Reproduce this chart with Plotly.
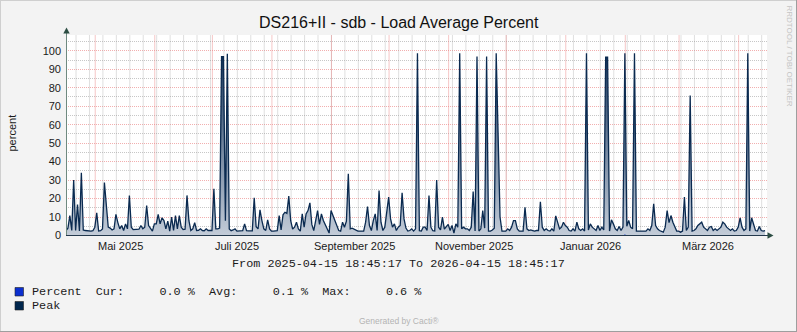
import pandas as pd
import plotly.graph_objects as go

# ---------------------------------------------------------------- data
START = "2025-04-15 18:45:17"
END = "2026-04-15 18:45:17"

# daily peak load average (percent), one value per day from START
peak = [
    2.7, 4.0, 10.8, 2.7, 30.0, 2.7, 16.8, 2.5, 34.0, 3.0,
    2.7, 2.5, 2.6, 2.4, 2.6, 4.5, 12.3, 2.4, 2.6, 3.6,
    28.7, 14.0, 4.5, 4.0, 3.0, 3.6, 11.4, 7.0, 3.6, 5.4,
    2.7, 6.3, 3.6, 21.7, 4.5, 3.2, 3.2, 3.0, 3.4, 5.4,
    3.6, 4.5, 16.2, 5.4, 3.6, 2.4, 6.3, 6.3, 11.4, 6.3,
    9.6, 8.1, 3.6, 7.8, 2.4, 9.9, 2.7, 10.8, 3.6, 10.8,
    4.5, 3.2, 3.4, 21.7, 8.0, 2.7, 3.6, 7.0, 2.7, 2.8,
    3.6, 2.7, 2.6, 3.6, 2.7, 2.6, 2.7, 25.3, 3.6, 3.6,
    4.0, 96.9, 96.9, 8.0, 98.4, 3.6, 2.6, 3.0, 3.6, 2.4,
    2.6, 2.6, 2.6, 6.3, 2.6, 2.5, 2.6, 2.5, 20.4, 4.7,
    3.6, 13.9, 8.1, 3.6, 2.7, 8.5, 3.6, 2.4, 2.4, 2.4,
    2.6, 10.8, 3.0, 11.2, 12.6, 12.0, 21.3, 8.0, 3.5, 4.5,
    7.2, 3.6, 2.4, 11.7, 4.5, 11.7, 13.5, 17.7, 6.0, 2.7,
    9.0, 13.5, 6.0, 11.7, 8.1, 6.0, 3.6, 1.3, 13.5, 11.0,
    8.1, 5.0, 2.7, 2.4, 7.2, 4.5, 7.8, 33.4, 3.6, 4.0,
    3.5, 2.7, 2.4, 2.4, 2.4, 2.4, 7.2, 15.7, 5.4, 2.7,
    8.1, 11.7, 2.7, 24.4, 7.2, 2.7, 4.5, 12.0, 20.8, 9.0,
    4.5, 6.3, 2.7, 4.5, 5.4, 23.1, 9.0, 4.0, 2.4, 2.7,
    3.6, 2.4, 3.6, 98.7, 2.6, 2.4, 4.5, 4.5, 2.7, 21.7,
    4.5, 2.6, 2.4, 30.1, 4.5, 3.0, 9.9, 3.5, 4.5, 6.0,
    2.7, 5.4, 1.3, 6.3, 4.5, 98.7, 3.6, 4.5, 3.6, 3.6,
    2.7, 4.5, 23.8, 2.4, 96.9, 2.4, 3.6, 13.5, 4.0, 96.9,
    2.4, 2.4, 3.0, 4.0, 98.7, 47.8, 10.0, 2.4, 2.4, 2.4,
    3.6, 2.7, 4.5, 8.1, 8.1, 3.6, 2.4, 2.4, 2.4, 15.3,
    3.6, 2.7, 3.0, 2.7, 2.4, 2.7, 2.7, 18.2, 4.5, 2.7,
    3.6, 2.7, 2.4, 3.6, 2.4, 10.6, 7.2, 3.6, 4.5, 7.2,
    5.4, 4.5, 2.7, 2.4, 3.6, 2.4, 7.2, 3.6, 2.7, 3.6,
    2.4, 98.7, 3.0, 6.3, 4.5, 3.6, 2.7, 5.4, 2.7, 4.5,
    3.0, 96.5, 96.5, 2.4, 8.5, 6.3, 3.6, 2.7, 4.9, 2.7,
    4.5, 98.7, 5.0, 8.1, 4.5, 3.6, 98.7, 2.4, 2.4, 2.4,
    2.4, 2.7, 2.4, 3.6, 2.7, 5.4, 17.1, 5.4, 3.6, 2.7,
    2.4, 1.8, 4.5, 13.5, 7.0, 10.8, 7.2, 4.5, 2.4, 2.4,
    1.8, 2.4, 20.8, 2.7, 4.5, 75.8, 2.4, 2.7, 3.6, 5.4,
    6.5, 7.2, 4.5, 3.6, 2.7, 4.5, 4.9, 2.7, 3.6, 2.7,
    3.6, 4.5, 7.2, 6.3, 4.5, 3.6, 2.7, 3.6, 2.4, 2.7,
    4.5, 9.6, 4.5, 2.7, 3.6, 98.7, 2.4, 9.6, 6.3, 2.7,
    2.4, 4.9, 2.7, 2.4, 2.7,
]

# daily load average (percent) on the same days
percent = [
    0.1, 0.1, 0.1, 0.1, 0.2, 0.1, 0.1, 0.1, 0.2, 0.1, 0.0, 0.0, 0.0, 0.0, 0.0, 0.1, 0.1, 0.0, 0.0, 0.1,
    0.2, 0.1, 0.1, 0.1, 0.1, 0.1, 0.1, 0.1, 0.1, 0.1, 0.0, 0.1, 0.1, 0.1, 0.1, 0.0, 0.0, 0.0, 0.0, 0.1,
    0.1, 0.1, 0.1, 0.1, 0.1, 0.0, 0.1, 0.1, 0.1, 0.1, 0.1, 0.1, 0.1, 0.1, 0.0, 0.1, 0.0, 0.1, 0.1, 0.1,
    0.1, 0.0, 0.0, 0.1, 0.1, 0.0, 0.1, 0.1, 0.0, 0.0, 0.1, 0.0, 0.0, 0.1, 0.0, 0.0, 0.0, 0.2, 0.1, 0.1,
    0.1, 0.4, 0.4, 0.1, 0.4, 0.1, 0.0, 0.1, 0.1, 0.0, 0.0, 0.0, 0.0, 0.1, 0.0, 0.0, 0.0, 0.0, 0.1, 0.1,
    0.1, 0.1, 0.1, 0.1, 0.0, 0.1, 0.1, 0.0, 0.0, 0.0, 0.0, 0.1, 0.1, 0.1, 0.1, 0.1, 0.2, 0.1, 0.1, 0.1,
    0.1, 0.1, 0.0, 0.1, 0.1, 0.1, 0.1, 0.1, 0.1, 0.0, 0.1, 0.1, 0.1, 0.1, 0.1, 0.1, 0.1, 0.0, 0.1, 0.1,
    0.1, 0.1, 0.0, 0.0, 0.1, 0.1, 0.1, 0.2, 0.1, 0.1, 0.1, 0.0, 0.0, 0.0, 0.0, 0.0, 0.1, 0.1, 0.1, 0.0,
    0.1, 0.1, 0.0, 0.2, 0.1, 0.0, 0.1, 0.1, 0.2, 0.1, 0.1, 0.1, 0.0, 0.1, 0.1, 0.2, 0.1, 0.1, 0.0, 0.0,
    0.1, 0.0, 0.1, 0.4, 0.0, 0.0, 0.1, 0.1, 0.0, 0.2, 0.1, 0.0, 0.0, 0.2, 0.1, 0.1, 0.1, 0.1, 0.1, 0.1,
    0.0, 0.1, 0.0, 0.1, 0.1, 0.4, 0.1, 0.1, 0.1, 0.1, 0.0, 0.1, 0.2, 0.0, 0.4, 0.0, 0.1, 0.1, 0.1, 0.4,
    0.0, 0.0, 0.1, 0.1, 0.4, 0.3, 0.1, 0.0, 0.0, 0.0, 0.1, 0.0, 0.1, 0.1, 0.1, 0.1, 0.0, 0.0, 0.0, 0.1,
    0.1, 0.0, 0.1, 0.0, 0.0, 0.0, 0.0, 0.1, 0.1, 0.0, 0.1, 0.0, 0.0, 0.1, 0.0, 0.1, 0.1, 0.1, 0.1, 0.1,
    0.1, 0.1, 0.0, 0.0, 0.1, 0.0, 0.1, 0.1, 0.0, 0.1, 0.0, 0.4, 0.1, 0.1, 0.1, 0.1, 0.0, 0.1, 0.0, 0.1,
    0.1, 0.4, 0.4, 0.0, 0.1, 0.1, 0.1, 0.0, 0.1, 0.0, 0.1, 0.6, 0.1, 0.1, 0.1, 0.1, 0.4, 0.0, 0.0, 0.0,
    0.0, 0.0, 0.0, 0.1, 0.0, 0.1, 0.2, 0.1, 0.1, 0.0, 0.0, 0.0, 0.1, 0.1, 0.1, 0.1, 0.1, 0.1, 0.0, 0.0,
    0.0, 0.0, 0.2, 0.0, 0.1, 0.3, 0.0, 0.0, 0.1, 0.1, 0.1, 0.1, 0.1, 0.1, 0.0, 0.1, 0.1, 0.0, 0.1, 0.0,
    0.1, 0.1, 0.1, 0.1, 0.1, 0.1, 0.0, 0.1, 0.0, 0.0, 0.1, 0.1, 0.1, 0.0, 0.1, 0.4, 0.0, 0.1, 0.1, 0.0,
    0.0, 0.1, 0.0, 0.0, 0.0,
]

# vertical grid: month starts (major) and Mondays (minor)
month_starts = ["2025-05-01", "2025-06-01", "2025-07-01", "2025-08-01",
                "2025-09-01", "2025-10-01", "2025-11-01", "2025-12-01",
                "2026-01-01", "2026-02-01", "2026-03-01", "2026-04-01"]
mondays = pd.date_range("2025-04-21", END, freq="7D")

# month labels (centred in their two-month slot) and legend statistics
month_label_dates = ["2025-05-14", "2025-07-14", "2025-09-13",
                     "2025-11-14", "2026-01-14", "2026-03-16"]
month_labels = ["Mai 2025", "Juli 2025", "September 2025",
                "November 2025", "Januar 2026", "März 2026"]
percent_stats = {"Cur": "0.0", "Avg": "0.1", "Max": "0.6"}

TITLE = "DS216+II - sdb - Load Average Percent"

# ---------------------------------------------------------------- style
W_IMG, H_IMG = 797, 332
L, R, T, B = 66, 30, 35, 96
PW, PH = W_IMG - L - R, H_IMG - T - B
Y0_PX = 235.5            # pixel row of value 0
PX_PER_UNIT = 1.847      # vertical pixels per percent

PEAK_COLOR = "#0a2a50"
PERCENT_COLOR = "#0b2fd0"
AXIS_COLOR = "#2c4d43"
SANS = "Liberation Sans"
MONO = "Liberation Mono"

GRID_MAJOR = "rgba(232,110,110,0.55)"
GRID_MINOR = "rgba(130,130,130,0.45)"
# vertical lines are drawn solid in the tone a dotted line reads as
VGRID_MAJOR = "rgba(236,130,130,0.45)"
VGRID_MINOR = "rgba(150,150,150,0.30)"
DASH = "1px,1px"


def px(x):
    return (x - L) / PW


def py(y):
    return (H_IMG - B - y) / PH


dates = pd.date_range(START, periods=len(peak), freq="D")

fig = go.Figure()
fig.add_trace(go.Scatter(
    x=dates, y=peak, mode="lines",
    line=dict(color=PEAK_COLOR, width=1.3, shape="linear"),
    fill="tozeroy",
    fillgradient=dict(type="vertical",
                      colorscale=[[0, "#c3ccd8"], [0.5, "#6e829c"], [1, "#0e2c52"]],
                      start=0, stop=100),
    hoverinfo="skip", showlegend=False,
))
fig.add_trace(go.Scatter(
    x=dates, y=percent, mode="lines",
    line=dict(color=PERCENT_COLOR, width=0),
    fill="tozeroy", fillcolor=PERCENT_COLOR,
    hoverinfo="skip", showlegend=False,
))

y_lo = -(H_IMG - B - Y0_PX) / PX_PER_UNIT
y_hi = (Y0_PX - T) / PX_PER_UNIT

fig.update_layout(
    width=W_IMG, height=H_IMG, autosize=False,
    margin=dict(l=L, r=R, t=T, b=B, pad=0),
    paper_bgcolor="#f3f3f3", plot_bgcolor="#ffffff",
    showlegend=False,
    xaxis=dict(
        type="date", range=[START, END],
        showgrid=False, showticklabels=False, ticks="",
        showline=False, zeroline=False,
    ),
    yaxis=dict(
        range=[y_lo, y_hi],
        tick0=0, dtick=10,
        showgrid=True, gridcolor=GRID_MAJOR, griddash=DASH, gridwidth=1,
        minor=dict(showgrid=True, dtick=5, tick0=0,
                   gridcolor=GRID_MINOR, griddash=DASH, gridwidth=1),
        ticks="", ticklabelstandoff=4, showline=False, zeroline=False,
        tickfont=dict(family=SANS, size=11, color="#1a1a1a"),
    ),
)

shapes = []
# vertical grid lines of the time axis, between the grid layer and the data
for d in mondays:
    shapes.append(dict(type="line", xref="x", yref="y", x0=d, x1=d, y0=y_lo, y1=y_hi,
                       layer="between", line=dict(color=VGRID_MINOR, width=1)))
for d in month_starts:
    shapes.append(dict(type="line", xref="x", yref="y", x0=d, x1=d, y0=y_lo, y1=y_hi,
                       layer="between", line=dict(color=VGRID_MAJOR, width=1)))
# frame around the image
shapes.append(dict(type="line", xref="paper", yref="paper",
                   x0=px(0), x1=px(W_IMG), y0=py(0.5), y1=py(0.5),
                   line=dict(color="#cfcfcf", width=1)))
shapes.append(dict(type="line", xref="paper", yref="paper",
                   x0=px(0.5), x1=px(0.5), y0=py(0), y1=py(H_IMG),
                   line=dict(color="#cfcfcf", width=1)))
shapes.append(dict(type="line", xref="paper", yref="paper",
                   x0=px(0), x1=px(W_IMG), y0=py(H_IMG - 0.5), y1=py(H_IMG - 0.5),
                   line=dict(color="#9e9e9e", width=1)))
shapes.append(dict(type="line", xref="paper", yref="paper",
                   x0=px(W_IMG - 0.5), x1=px(W_IMG - 0.5), y0=py(0), y1=py(H_IMG),
                   line=dict(color="#9e9e9e", width=1)))
# axes with arrow heads
shapes.append(dict(type="line", xref="paper", yref="paper",
                   x0=px(66.5), x1=px(66.5), y0=py(Y0_PX), y1=py(31),
                   line=dict(color="#6f8a80", width=1)))
shapes.append(dict(type="line", xref="paper", yref="paper",
                   x0=px(66), x1=px(769), y0=py(Y0_PX), y1=py(Y0_PX),
                   line=dict(color="#23384c", width=1)))
shapes.append(dict(type="path", xref="paper", yref="paper",
                   path=f"M {px(63.3)} {py(33.5)} L {px(69.7)} {py(33.5)} L {px(66.5)} {py(27.5)} Z",
                   fillcolor=AXIS_COLOR, line=dict(width=0)))
shapes.append(dict(type="path", xref="paper", yref="paper",
                   path=f"M {px(767.5)} {py(232.3)} L {px(767.5)} {py(238.7)} L {px(773.5)} {py(Y0_PX)} Z",
                   fillcolor=AXIS_COLOR, line=dict(width=0)))
# legend colour boxes
shapes.append(dict(type="rect", xref="paper", yref="paper",
                   x0=px(15), x1=px(23.5), y0=py(296), y1=py(287.5),
                   fillcolor=PERCENT_COLOR, line=dict(color="#222222", width=0.6)))
shapes.append(dict(type="rect", xref="paper", yref="paper",
                   x0=px(15), x1=px(23.5), y0=py(310), y1=py(301.5),
                   fillcolor="#00264d", line=dict(color="#222222", width=0.6)))
fig.update_layout(shapes=shapes)

NB = "\u00a0"


def mono(s):
    return s.replace(" ", NB)


ann = []
ann.append(dict(text=TITLE, xref="paper", yref="paper", x=px(398.5), y=py(22.5),
                xanchor="center", yanchor="middle", showarrow=False,
                font=dict(family=SANS, size=16, color="#111111")))
ann.append(dict(text="percent", xref="paper", yref="paper", x=px(11), y=py(133.5),
                xanchor="center", yanchor="middle", textangle=-90, showarrow=False,
                font=dict(family=SANS, size=11, color="#1a1a1a")))
ann.append(dict(text="RRDTOOL / TOBI OETIKER", xref="paper", yref="paper",
                x=px(788.5), y=py(56), xanchor="center", yanchor="middle",
                textangle=90, showarrow=False,
                font=dict(family=SANS, size=8, color="#c4c4c4")))
for d, lab in zip(month_label_dates, month_labels):
    ann.append(dict(text=lab, xref="x", yref="paper", x=d, y=py(246),
                    xanchor="center", yanchor="middle", showarrow=False,
                    font=dict(family=SANS, size=11, color="#1a1a1a")))
ann.append(dict(text=mono(f"From {START} To {END}"), xref="paper", yref="paper",
                x=px(398.5), y=py(264), xanchor="center", yanchor="middle",
                showarrow=False, font=dict(family=MONO, size=11.8, color="#1a1a1a")))
legend_line = (f"Percent  Cur:     {percent_stats['Cur']} %  "
               f"Avg:     {percent_stats['Avg']} %  Max:     {percent_stats['Max']} %")
ann.append(dict(text=mono(legend_line), xref="paper", yref="paper",
                x=px(29.5), y=py(292), xanchor="left", yanchor="middle",
                showarrow=False, font=dict(family=MONO, size=11.8, color="#1a1a1a")))
ann.append(dict(text="Peak", xref="paper", yref="paper",
                x=px(29.5), y=py(305.5), xanchor="left", yanchor="middle",
                showarrow=False, font=dict(family=MONO, size=11.8, color="#1a1a1a")))
ann.append(dict(text="Generated by Cacti®", xref="paper", yref="paper",
                x=px(398.8), y=py(321.3), xanchor="center", yanchor="middle",
                showarrow=False, font=dict(family=SANS, size=8.5, color="#b4b4b4")))
fig.update_layout(annotations=ann)

fig.write_html("out.html")
